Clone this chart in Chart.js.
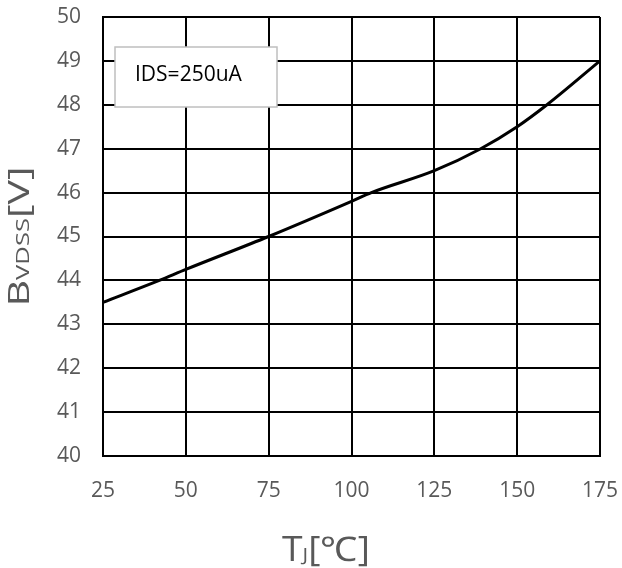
<!DOCTYPE html>
<html>
<head>
<meta charset="utf-8">
<script src="https://cdn.jsdelivr.net/npm/chart.js@4.4.0/dist/chart.umd.min.js"></script>
<style>
  html, body { margin: 0; padding: 0; background: #fff; }
  #wrap { width: 622px; height: 568px; }
</style>
</head>
<body>
<div id="wrap"><canvas id="graph" width="622" height="568"></canvas></div>
<script>
// junction temperature (°C) and breakdown voltage (V)
var tj = [25, 42, 50, 75, 100, 106, 125, 139, 150, 159, 175];
var bvdss = [43.5, 44, 44.25, 45, 45.8, 46, 46.5, 47, 47.5, 48, 49];
var xTicks = [25, 50, 75, 100, 125, 150, 175];
var yMin = 40, yMax = 50;
var note = "IDS=250uA";

var font = "'Open Sans', 'Liberation Sans', sans-serif";
var grey = "#595959";

// draws "big small big" text pieces along the baseline, stretched to a given length
function subText(c, parts, cx, len) {
	var total = 0;
	parts.forEach(function(p) { c.font = p[1] + "px " + font; p.w = c.measureText(p[0]).width; total += p.w; });
	var k = len / total;
	c.save();
	c.translate(cx - len / 2, 0);
	c.scale(k, 1);
	var x = 0;
	parts.forEach(function(p) { c.font = p[1] + "px " + font; c.fillText(p[0], x, 0); x += p.w; });
	c.restore();
}

function noPad(scale) {
	scale.paddingTop = 0;
	scale.paddingBottom = 0;
	scale.paddingLeft = 0;
	scale.paddingRight = 0;
}

var extras = {
	id: "extras",
	afterDraw: function(chart) {
		var c = chart.ctx;
		var a = chart.chartArea;
		c.save();
		c.fillStyle = grey;
		c.textBaseline = "alphabetic";

		// x title
		c.save();
		c.translate(0, 561);
		subText(c, [["T", 34], ["J", 19], ["[℃]", 34]], 326, 88);
		c.restore();

		// y title, rotated
		c.save();
		c.translate(29, (a.top + a.bottom) / 2);
		c.rotate(-Math.PI / 2);
		subText(c, [["B", 29], ["VDSS", 18], ["[V]", 29]], 0, 140);
		c.restore();
		c.restore();

		// note box
		c.save();
		c.fillStyle = "#fff";
		c.strokeStyle = "#bfbfbf";
		c.lineWidth = 1.5;
		c.fillRect(115, 47, 162, 60);
		c.strokeRect(115, 47, 162, 60);
		c.fillStyle = "#000";
		c.font = "21px " + font;
		c.textBaseline = "middle";
		c.fillText(note, 135, 75);
		c.restore();
	}
};

var ctx = document.getElementById("graph");
var graph = new Chart(ctx, {
	type: "line",
	data: {
		datasets: [{
			data: tj.map(function(t, i) { return { x: t, y: bvdss[i] }; }),
			borderColor: "#000",
			borderWidth: 3,
			pointRadius: 0,
			cubicInterpolationMode: "monotone",
			fill: false
		}]
	},
	options: {
		responsive: false,
		animation: false,
		layout: { padding: { top: 17, right: 22, left: 0, bottom: 0 } },
		plugins: { legend: { display: false }, tooltip: { enabled: false } },
		scales: {
			x: {
				type: "linear",
				min: 25, max: 175,
				afterBuildTicks: function(scale) {
					scale.ticks = xTicks.map(function(v) { return { value: v }; });
				},
				afterFit: function(scale) { scale.height = 568 - 456; noPad(scale); },
				grid: { color: "#000", lineWidth: 2, drawTicks: false },
				border: { color: "#000", width: 2 },
				ticks: { color: grey, font: { family: font, size: 21 }, padding: 22, maxRotation: 0 }
			},
			y: {
				min: yMin, max: yMax,
				afterFit: function(scale) { scale.width = 103; noPad(scale); },
				grid: { color: "#000", lineWidth: 2, drawTicks: false },
				border: { color: "#000", width: 2 },
				ticks: { stepSize: 1, color: grey, font: { family: font, size: 21 }, padding: 22 }
			}
		}
	},
	plugins: [extras]
});
</script>
</body>
</html>
